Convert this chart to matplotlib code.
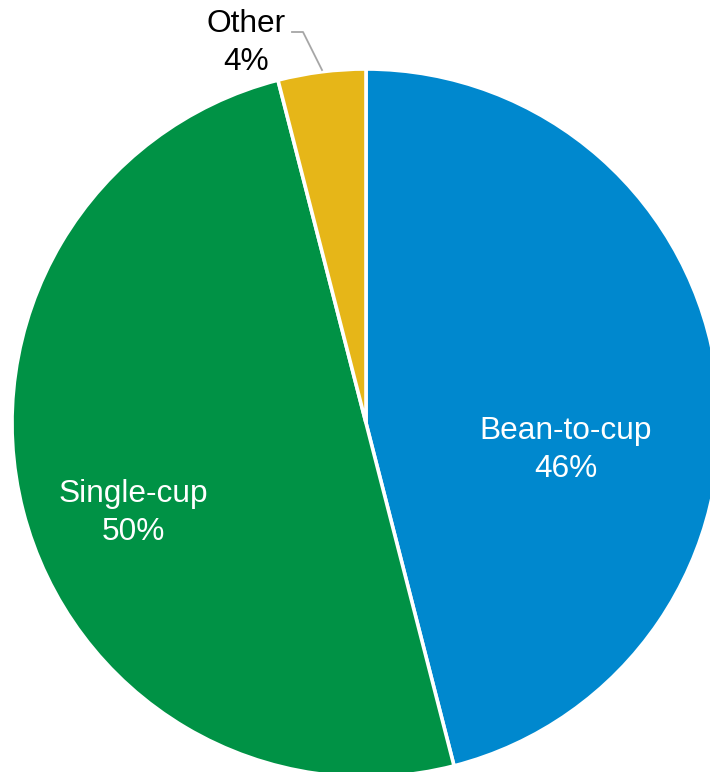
import matplotlib.pyplot as plt

plt.rcParams['font.family'] = ['Liberation Sans', 'DejaVu Sans']

labels = ["Bean-to-cup", "Single-cup", "Other"]
shares = [46, 50, 4]
colors = ["#0088CE", "#009245", "#E6B618"]

fig = plt.figure(figsize=(7.10, 7.72), dpi=100)
ax = fig.add_axes([0, 0, 1, 1])

cx, cy, r = 366, 772 - 423, 354
wedges, _ = ax.pie(shares, colors=colors, startangle=90, counterclock=False,
                   center=(cx, cy), radius=r, frame=True,
                   wedgeprops=dict(edgecolor="white", linewidth=2.6))
ax.set_xlim(0, 710)
ax.set_ylim(0, 772)
ax.set_aspect("equal")
ax.axis("off")

fs = 22.8
ax.text(566, 772 - 450, f"{labels[0]}\n{shares[0]}%", color="white", fontsize=fs,
        ha="center", va="center", linespacing=1.35)
ax.text(133, 772 - 513, f"{labels[1]}\n{shares[1]}%", color="white", fontsize=fs,
        ha="center", va="center", linespacing=1.35)
ax.text(246, 772 - 43, f"{labels[2]}\n{shares[2]}%", color="black", fontsize=fs,
        ha="center", va="center", linespacing=1.35)

# leader line for the small slice
ax.plot([292, 303, 322], [772 - 32, 772 - 32, 772 - 70], color="#A6A6A6", lw=1.3)

fig.savefig("out.png", dpi=100)
